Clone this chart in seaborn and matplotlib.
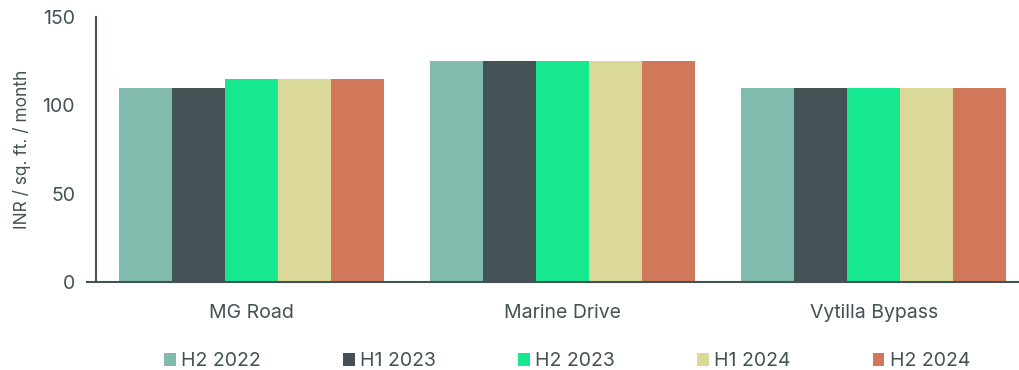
import matplotlib.pyplot as plt
import numpy as np
import pandas as pd
import seaborn as sns

locations = ['MG Road', 'Marine Drive', 'Vytilla Bypass']
periods = ['H2 2022', 'H1 2023', 'H2 2023', 'H1 2024', 'H2 2024']
rents = {
    'H2 2022': [110, 125, 110],
    'H1 2023': [110, 125, 110],
    'H2 2023': [115, 125, 110],
    'H1 2024': [115, 125, 110],
    'H2 2024': [115, 125, 110],
}
colors = ['#80BBAD', '#435254', '#17E88F', '#DBD99A', '#D2785A']

rows = []
for p in periods:
    for loc, v in zip(locations, rents[p]):
        rows.append({'location': loc, 'period': p, 'rent': v})
df = pd.DataFrame(rows)

sns.set_style('white')
plt.rcParams['font.family'] = ['Inter', 'DejaVu Sans']
txt = '#435254'

fig = plt.figure(figsize=(10.2, 3.7), dpi=100)
ax = fig.add_axes([0.094, 0.238, 0.906, 0.716])
sns.barplot(data=df, x='location', y='rent', hue='period', hue_order=periods,
            palette=colors, width=0.852, gap=0, saturation=1, linewidth=0, ax=ax)

ax.set_ylim(0, 150)
ax.set_yticks([0, 50, 100, 150])
ax.set_xlim(-0.5, 2.47)
ax.set_xlabel('')
ax.set_ylabel('INR / sq. ft. / month', fontsize=12.5, color=txt, labelpad=8)
for s in ['top', 'right']:
    ax.spines[s].set_visible(False)
for s in ['left', 'bottom']:
    ax.spines[s].set_color(txt)
    ax.spines[s].set_linewidth(1.5)
ax.tick_params(axis='y', length=7, width=1.5, color=txt, labelcolor=txt, labelsize=14, pad=8)
ax.tick_params(axis='x', length=0, labelcolor=txt, labelsize=14, pad=16)
ax.spines['bottom'].set_bounds(-0.53, 2.47)

ax.legend(loc='upper center', bbox_to_anchor=(0.51, -0.2), ncol=5, frameon=False,
          fontsize=14, labelcolor=txt, handlelength=0.6, handleheight=0.6,
          handletextpad=0.3, columnspacing=4.2)

fig.savefig('out.png', dpi=100)
